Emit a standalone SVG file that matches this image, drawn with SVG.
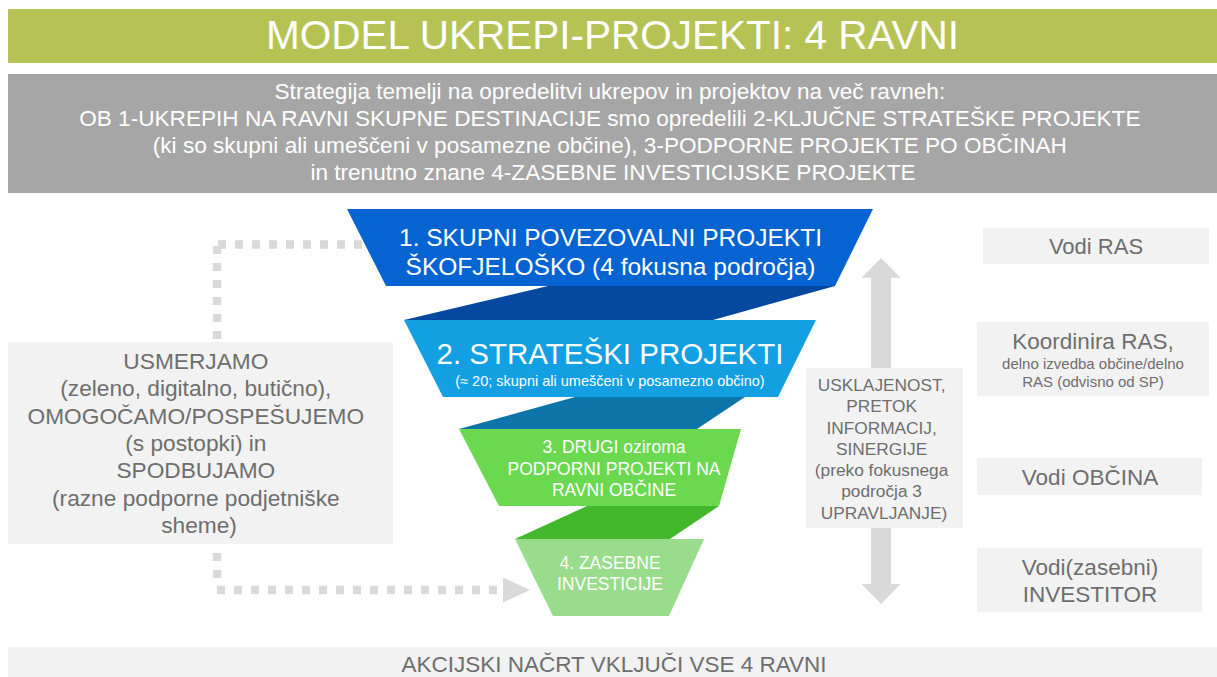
<svg xmlns="http://www.w3.org/2000/svg" width="1217" height="677" viewBox="0 0 1217 677">
<defs>
<style>
text{font-family:"Liberation Sans",Arial,"DejaVu Sans",sans-serif;text-anchor:middle}
.w{fill:#ffffff}
.g{fill:#6e6e6e}
.lt{fill:#f2f2f2}
.dot{fill:none;stroke:#d9d9d9;stroke-width:8.5;stroke-dasharray:8 9}
</style>
<marker id="ah" markerUnits="userSpaceOnUse" markerWidth="28" markerHeight="26" refX="0" refY="12.5" orient="auto" viewBox="0 0 28 26">
<path d="M0,0 L27,12.5 L0,25 Z" fill="#d9d9d9"/>
</marker>
</defs>
<rect width="1217" height="677" fill="#ffffff"/>

<g id="title">
<rect x="8" y="9" width="1209" height="54" fill="#b6c354"/>
<text x="612.5" y="49" font-size="40.5" class="w">MODEL UKREPI-PROJEKTI: 4 RAVNI</text>
</g>

<g id="intro">
<rect x="8" y="74" width="1209" height="119" fill="#a6a6a6"/>
<text font-size="22.6" class="w">
<tspan x="613" y="99">Strategija temelji na opredelitvi ukrepov in projektov na več ravneh:</tspan>
<tspan x="613" y="126">OB 1-UKREPIH NA RAVNI SKUPNE DESTINACIJE smo opredelili 2-KLJUČNE STRATEŠKE PROJEKTE</tspan>
<tspan x="613" y="153">(ki so skupni ali umeščeni v posamezne občine), 3-PODPORNE PROJEKTE PO OBČINAH</tspan>
<tspan x="613" y="180">in trenutno znane 4-ZASEBNE INVESTICIJSKE PROJEKTE</tspan>
</text>
</g>

<g id="connectors">
<path class="dot" d="M362,244.5 H213"/>
<path class="dot" d="M217,339 V244.5"/>
<path class="dot" d="M217,553 V582"/>
<path class="dot" d="M217,590 H503" marker-end="url(#ah)"/>
<polygon points="871,277.7 861.5,277.7 881,258 900.5,277.7 891,277.7 891,584 900.5,584 881,604 861.5,584 871,584" fill="#d9d9d9"/>
</g>

<g id="ribbons">
<polygon points="548,286 835,286 713,320 404,320" fill="#05489f"/>
<polygon points="575,397 745,397 697,429 459,429" fill="#0d75aa"/>
<polygon points="587,506 719,506 670,539 515,539" fill="#43b72b"/>
</g>

<g id="level1">
<polygon points="347,209 873,209 835,286 386,286" fill="#0563d2"/>
<text font-size="24.5" class="w"><tspan x="610.5" y="245.5">1. SKUPNI POVEZOVALNI PROJEKTI</tspan><tspan x="610.5" y="275">ŠKOFJELOŠKO (4 fokusna področja)</tspan></text>
</g>

<g id="level2">
<polygon points="404,320 816,320 778,397 443,397" fill="#12a0e3"/>
<text x="610" y="364" font-size="29.5" class="w">2. STRATEŠKI PROJEKTI</text>
<text x="610" y="385.5" font-size="14.5" class="w">(≈ 20; skupni ali umeščeni v posamezno občino)</text>
</g>

<g id="level3">
<polygon points="459,429 741,429 719,506 499,506" fill="#6ad94f"/>
<text font-size="17.5" class="w"><tspan x="614" y="453">3. DRUGI oziroma</tspan><tspan x="614" y="474.5">PODPORNI PROJEKTI NA</tspan><tspan x="614" y="495.5">RAVNI OBČINE</tspan></text>
</g>

<g id="level4">
<polygon points="515,539 704,539 669,616 553,616" fill="#98dc8c"/>
<text font-size="17.5" class="w"><tspan x="610" y="569">4. ZASEBNE</tspan><tspan x="610" y="590">INVESTICIJE</tspan></text>
</g>

<g id="left-box">
<rect x="8" y="342" width="385" height="202" class="lt"/>
<text font-size="22.7" class="g">
<tspan x="199" y="369">USMERJAMO</tspan>
<tspan x="199" y="396.3">(zeleno, digitalno, butično),</tspan>
<tspan x="199" y="423.7">OMOGOČAMO/POSPEŠUJEMO</tspan>
<tspan x="199" y="451">(s postopki) in</tspan>
<tspan x="199" y="478.3">SPODBUJAMO</tspan>
<tspan x="199" y="505.7">(razne podporne podjetniške</tspan>
<tspan x="199" y="533">sheme)</tspan>
</text>
</g>

<g id="middle-box">
<rect x="806" y="368" width="157" height="160" class="lt"/>
<text font-size="17.3" class="g">
<tspan x="884" y="391">USKLAJENOST,</tspan>
<tspan x="884" y="412">PRETOK</tspan>
<tspan x="884" y="433.5">INFORMACIJ,</tspan>
<tspan x="884" y="454.5">SINERGIJE</tspan>
<tspan x="884" y="476">(preko fokusnega</tspan>
<tspan x="884" y="497">področja 3</tspan>
<tspan x="884" y="518.5">UPRAVLJANJE)</tspan>
</text>
</g>

<g id="vodi-ras">
<rect x="983" y="228" width="226" height="36" class="lt"/>
<text x="1096" y="254" font-size="22" class="g">Vodi RAS</text>
</g>

<g id="koordinira-ras">
<rect x="977" y="322" width="232" height="74" class="lt"/>
<text x="1093" y="348.5" font-size="22.5" class="g">Koordinira RAS,</text>
<text font-size="15" class="g"><tspan x="1093" y="368.5">delno izvedba občine/delno</tspan><tspan x="1093" y="387">RAS (odvisno od SP)</tspan></text>
</g>

<g id="vodi-obcina">
<rect x="977" y="458" width="225" height="37" class="lt"/>
<text x="1090" y="485" font-size="22.5" class="g">Vodi OBČINA</text>
</g>

<g id="vodi-investitor">
<rect x="977" y="548" width="225" height="64" class="lt"/>
<text font-size="22.5" class="g"><tspan x="1090" y="575">Vodi(zasebni)</tspan><tspan x="1090" y="602">INVESTITOR</tspan></text>
</g>

<g id="action-plan">
<rect x="8" y="647" width="1209" height="30" class="lt"/>
<text x="614" y="671.5" font-size="22.5" class="g">AKCIJSKI NAČRT VKLJUČI VSE 4 RAVNI</text>
</g>
</svg>
